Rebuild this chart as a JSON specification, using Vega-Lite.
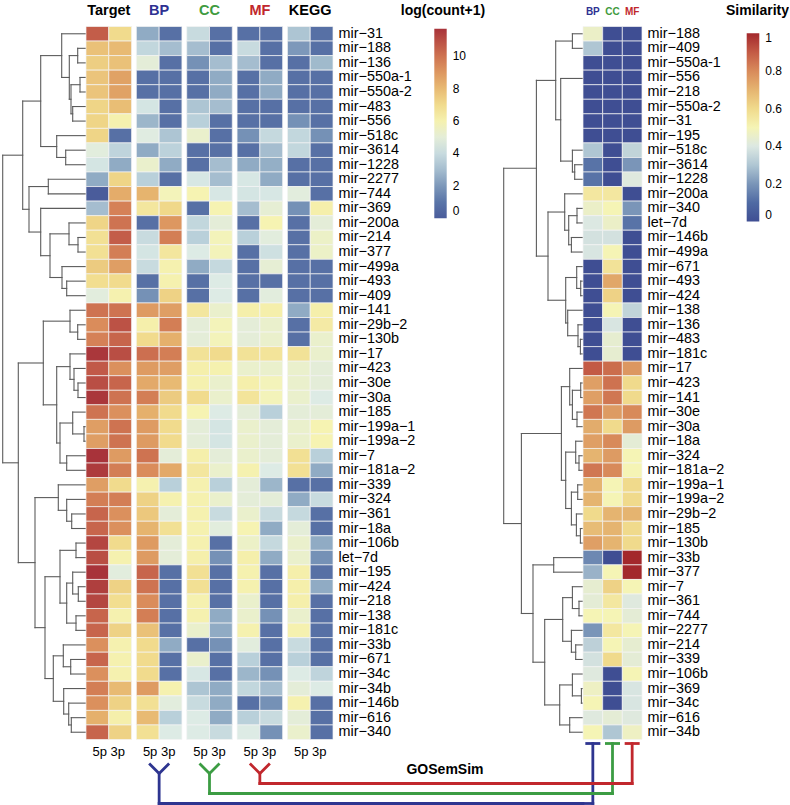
{
  "$schema": "https://vega.github.io/schema/vega-lite/v6.json",
  "padding": {"left": 0, "top": 1.5, "right": 0, "bottom": 0},
  "config": {
    "view": {"stroke": null},
    "font": "Liberation Sans",
    "axis": {"labelFont": "Liberation Sans", "titleFont": "Liberation Sans", "grid": false, "labelColor": "#000000", "titleColor": "#000000", "ticks": false, "domain": false, "labelOverlap": false},
    "legend": {"labelFont": "Liberation Sans", "labelColor": "#000000"}
  },
  "columns": 4,
  "spacing": 0,
  "bounds": "flush",
  "resolve": {"scale": {"color": "independent", "x": "independent", "y": "independent"}},
  "concat": [
    {
      "width": 86, "height": 713,
      "data": {"values": [
        {"h":0.083,"ya":1.5,"ha":0,"yb":2.5,"hb":0},
        {"h":0.06,"ya":3.5,"ha":0,"yb":4.5,"hb":0},
        {"h":0.133,"ya":5.5,"ha":0,"yb":6.5,"hb":0},
        {"h":0.15,"ya":4.0,"ha":0.06,"yb":6.0,"hb":0.133},
        {"h":0.167,"ya":2.0,"ha":0.083,"yb":5.0,"hb":0.15},
        {"h":0.243,"ya":0.5,"ha":0,"yb":3.5,"hb":0.167},
        {"h":0.203,"ya":8.5,"ha":0,"yb":9.5,"hb":0},
        {"h":0.293,"ya":7.5,"ha":0,"yb":9.0,"hb":0.203},
        {"h":0.453,"ya":2.0,"ha":0.243,"yb":8.25,"hb":0.293},
        {"h":0.377,"ya":10.5,"ha":0,"yb":11.5,"hb":0},
        {"h":0.08,"ya":14.5,"ha":0,"yb":15.5,"hb":0},
        {"h":0.17,"ya":13.5,"ha":0,"yb":15.0,"hb":0.08},
        {"h":0.193,"ya":17.5,"ha":0,"yb":18.5,"hb":0},
        {"h":0.24,"ya":16.5,"ha":0,"yb":18.0,"hb":0.193},
        {"h":0.36,"ya":14.25,"ha":0.17,"yb":17.25,"hb":0.24},
        {"h":0.453,"ya":12.5,"ha":0,"yb":15.75,"hb":0.36},
        {"h":0.57,"ya":11.0,"ha":0.377,"yb":14.125,"hb":0.453},
        {"h":0.633,"ya":5.125,"ha":0.453,"yb":12.5625,"hb":0.57},
        {"h":0.083,"ya":20.5,"ha":0,"yb":21.5,"hb":0},
        {"h":0.16,"ya":19.5,"ha":0,"yb":21.0,"hb":0.083},
        {"h":0.08,"ya":24.5,"ha":0,"yb":25.5,"hb":0},
        {"h":0.12,"ya":23.5,"ha":0,"yb":25.0,"hb":0.08},
        {"h":0.16,"ya":22.5,"ha":0,"yb":24.25,"hb":0.12},
        {"h":0.02,"ya":27.5,"ha":0,"yb":28.5,"hb":0},
        {"h":0.133,"ya":26.5,"ha":0,"yb":28.0,"hb":0.02},
        {"h":0.193,"ya":29.5,"ha":0,"yb":30.5,"hb":0},
        {"h":0.26,"ya":27.25,"ha":0.133,"yb":30.0,"hb":0.193},
        {"h":0.293,"ya":23.375,"ha":0.16,"yb":28.625,"hb":0.26},
        {"h":0.427,"ya":20.25,"ha":0.16,"yb":26.0,"hb":0.293},
        {"h":0.143,"ya":33.5,"ha":0,"yb":34.5,"hb":0},
        {"h":0.193,"ya":32.5,"ha":0,"yb":34.0,"hb":0.143},
        {"h":0.277,"ya":31.5,"ha":0,"yb":33.25,"hb":0.193},
        {"h":0.1,"ya":35.5,"ha":0,"yb":36.5,"hb":0},
        {"h":0.077,"ya":38.5,"ha":0,"yb":39.5,"hb":0},
        {"h":0.133,"ya":37.5,"ha":0,"yb":39.0,"hb":0.077},
        {"h":0.1,"ya":40.5,"ha":0,"yb":41.5,"hb":0},
        {"h":0.193,"ya":38.25,"ha":0.133,"yb":41.0,"hb":0.1},
        {"h":0.26,"ya":36.0,"ha":0.1,"yb":39.625,"hb":0.193},
        {"h":0.153,"ya":43.5,"ha":0,"yb":44.5,"hb":0},
        {"h":0.227,"ya":42.5,"ha":0,"yb":44.0,"hb":0.153},
        {"h":0.147,"ya":47.5,"ha":0,"yb":48.5,"hb":0},
        {"h":0.173,"ya":46.5,"ha":0,"yb":48.0,"hb":0.147},
        {"h":0.223,"ya":45.5,"ha":0,"yb":47.25,"hb":0.173},
        {"h":0.327,"ya":43.25,"ha":0.227,"yb":46.375,"hb":0.223},
        {"h":0.41,"ya":37.8125,"ha":0.26,"yb":44.8125,"hb":0.327},
        {"h":0.51,"ya":32.375,"ha":0.277,"yb":41.3125,"hb":0.41},
        {"h":0.677,"ya":23.125,"ha":0.427,"yb":36.84375,"hb":0.51},
        {"h":0.833,"ya":8.84375,"ha":0.633,"yb":29.984,"hb":0.677}
      ]},
      "layer": [
        {"mark": {"type": "rule", "color": "#5c5c5c", "strokeWidth": 1.1, "strokeCap": "square"},
         "encoding": {
           "x": {"field": "h", "type": "quantitative", "scale": {"domain": [0, 0.86], "reverse": true, "nice": false, "zero": false}, "axis": null},
           "y": {"field": "ya", "type": "quantitative", "scale": {"domain": [0, 49], "reverse": true, "nice": false, "zero": false}, "axis": null},
           "y2": {"field": "yb"}}},
        {"mark": {"type": "rule", "color": "#5c5c5c", "strokeWidth": 1.1, "strokeCap": "square"},
         "encoding": {
           "x": {"field": "h", "type": "quantitative", "axis": null},
           "x2": {"field": "ha"},
           "y": {"field": "ya", "type": "quantitative", "axis": null}}},
        {"mark": {"type": "rule", "color": "#5c5c5c", "strokeWidth": 1.1, "strokeCap": "square"},
         "encoding": {
           "x": {"field": "h", "type": "quantitative", "axis": null},
           "x2": {"field": "hb"},
           "y": {"field": "yb", "type": "quantitative", "axis": null}}}
      ]
    },
    {
      "width": 247, "height": 713,
      "data": {"values": [
        {"mir":"mir−31","strand":"5p","Target":10.6,"BP":2.5,"CC":4.0,"MF":0.8,"KEGG":3.2},
        {"mir":"mir−31","strand":"3p","Target":7.0,"BP":0.8,"CC":0.8,"MF":0.8,"KEGG":0.8},
        {"mir":"mir−188","strand":"5p","Target":7.8,"BP":3.8,"CC":3.0,"MF":4.0,"KEGG":2.0},
        {"mir":"mir−188","strand":"3p","Target":8.0,"BP":3.0,"CC":0.8,"MF":0.8,"KEGG":0.8},
        {"mir":"mir−136","strand":"5p","Target":7.4,"BP":5.0,"CC":1.8,"MF":3.0,"KEGG":0.8},
        {"mir":"mir−136","strand":"3p","Target":7.8,"BP":0.8,"CC":3.0,"MF":0.8,"KEGG":2.9},
        {"mir":"mir−550a-1","strand":"5p","Target":7.7,"BP":0.8,"CC":0.8,"MF":0.8,"KEGG":0.8},
        {"mir":"mir−550a-1","strand":"3p","Target":8.7,"BP":0.8,"CC":2.5,"MF":2.5,"KEGG":0.8},
        {"mir":"mir−550a-2","strand":"5p","Target":7.7,"BP":0.8,"CC":0.8,"MF":0.8,"KEGG":0.8},
        {"mir":"mir−550a-2","strand":"3p","Target":8.7,"BP":0.8,"CC":2.5,"MF":2.5,"KEGG":0.8},
        {"mir":"mir−483","strand":"5p","Target":7.2,"BP":4.4,"CC":3.2,"MF":0.8,"KEGG":0.8},
        {"mir":"mir−483","strand":"3p","Target":7.9,"BP":0.8,"CC":3.0,"MF":0.8,"KEGG":0.8},
        {"mir":"mir−556","strand":"5p","Target":7.2,"BP":2.8,"CC":3.5,"MF":0.8,"KEGG":1.8},
        {"mir":"mir−556","strand":"3p","Target":6.0,"BP":0.8,"CC":0.8,"MF":0.8,"KEGG":0.8},
        {"mir":"mir−518c","strand":"5p","Target":7.2,"BP":4.8,"CC":5.3,"MF":1.8,"KEGG":3.8},
        {"mir":"mir−518c","strand":"3p","Target":0.8,"BP":3.2,"CC":0.8,"MF":3.9,"KEGG":1.8},
        {"mir":"mir−3614","strand":"5p","Target":4.9,"BP":2.5,"CC":0.8,"MF":0.8,"KEGG":3.8},
        {"mir":"mir−3614","strand":"3p","Target":3.7,"BP":3.6,"CC":0.8,"MF":3.0,"KEGG":0.8},
        {"mir":"mir−1228","strand":"5p","Target":4.4,"BP":5.3,"CC":0.8,"MF":2.5,"KEGG":0.8},
        {"mir":"mir−1228","strand":"3p","Target":2.5,"BP":2.5,"CC":3.0,"MF":2.6,"KEGG":0.8},
        {"mir":"mir−2277","strand":"5p","Target":2.5,"BP":3.5,"CC":4.5,"MF":4.5,"KEGG":0.8},
        {"mir":"mir−2277","strand":"3p","Target":7.2,"BP":0.8,"CC":3.0,"MF":2.5,"KEGG":0.8},
        {"mir":"mir−744","strand":"5p","Target":0.0,"BP":8.2,"CC":5.9,"MF":4.4,"KEGG":4.9},
        {"mir":"mir−744","strand":"3p","Target":8.4,"BP":5.7,"CC":4.5,"MF":4.5,"KEGG":0.8},
        {"mir":"mir−369","strand":"5p","Target":3.0,"BP":6.5,"CC":0.8,"MF":3.0,"KEGG":1.8},
        {"mir":"mir−369","strand":"3p","Target":9.6,"BP":7.1,"CC":5.9,"MF":5.1,"KEGG":6.1},
        {"mir":"mir−200a","strand":"5p","Target":7.2,"BP":0.8,"CC":3.8,"MF":0.8,"KEGG":0.8},
        {"mir":"mir−200a","strand":"3p","Target":10.0,"BP":9.0,"CC":5.0,"MF":5.9,"KEGG":5.0},
        {"mir":"mir−214","strand":"5p","Target":6.8,"BP":4.0,"CC":3.5,"MF":3.5,"KEGG":0.8},
        {"mir":"mir−214","strand":"3p","Target":10.6,"BP":9.7,"CC":5.7,"MF":4.9,"KEGG":5.4},
        {"mir":"mir−377","strand":"5p","Target":6.8,"BP":4.4,"CC":4.7,"MF":0.8,"KEGG":0.8},
        {"mir":"mir−377","strand":"3p","Target":9.7,"BP":6.5,"CC":5.7,"MF":4.2,"KEGG":5.4},
        {"mir":"mir−499a","strand":"5p","Target":7.5,"BP":4.0,"CC":2.5,"MF":0.8,"KEGG":0.8},
        {"mir":"mir−499a","strand":"3p","Target":8.8,"BP":6.0,"CC":3.9,"MF":5.1,"KEGG":0.8},
        {"mir":"mir−493","strand":"5p","Target":6.9,"BP":0.8,"CC":0.8,"MF":0.8,"KEGG":0.8},
        {"mir":"mir−493","strand":"3p","Target":7.0,"BP":6.0,"CC":4.7,"MF":0.8,"KEGG":0.8},
        {"mir":"mir−409","strand":"5p","Target":4.9,"BP":1.8,"CC":0.8,"MF":0.8,"KEGG":0.8},
        {"mir":"mir−409","strand":"3p","Target":6.0,"BP":7.3,"CC":4.7,"MF":4.9,"KEGG":0.8},
        {"mir":"mir−141","strand":"5p","Target":10.0,"BP":8.9,"CC":6.5,"MF":6.1,"KEGG":2.5},
        {"mir":"mir−141","strand":"3p","Target":10.0,"BP":8.8,"CC":5.3,"MF":6.1,"KEGG":6.1},
        {"mir":"mir−29b−2","strand":"5p","Target":9.3,"BP":6.1,"CC":5.0,"MF":5.0,"KEGG":0.8},
        {"mir":"mir−29b−2","strand":"3p","Target":10.9,"BP":9.7,"CC":5.7,"MF":5.3,"KEGG":6.3},
        {"mir":"mir−130b","strand":"5p","Target":9.6,"BP":7.0,"CC":5.0,"MF":5.0,"KEGG":0.8},
        {"mir":"mir−130b","strand":"3p","Target":10.4,"BP":8.3,"CC":5.7,"MF":5.3,"KEGG":5.3},
        {"mir":"mir−17","strand":"5p","Target":11.6,"BP":10.1,"CC":6.7,"MF":6.7,"KEGG":6.7},
        {"mir":"mir−17","strand":"3p","Target":11.0,"BP":9.7,"CC":7.0,"MF":6.6,"KEGG":5.3},
        {"mir":"mir−423","strand":"5p","Target":10.7,"BP":8.9,"CC":6.1,"MF":5.3,"KEGG":5.3},
        {"mir":"mir−423","strand":"3p","Target":9.2,"BP":8.8,"CC":6.0,"MF":5.3,"KEGG":5.0},
        {"mir":"mir−30e","strand":"5p","Target":11.0,"BP":8.5,"CC":6.0,"MF":6.1,"KEGG":5.3},
        {"mir":"mir−30e","strand":"3p","Target":10.4,"BP":8.0,"CC":5.3,"MF":5.7,"KEGG":5.0},
        {"mir":"mir−30a","strand":"5p","Target":11.6,"BP":9.7,"CC":7.0,"MF":6.6,"KEGG":5.3},
        {"mir":"mir−30a","strand":"3p","Target":10.0,"BP":7.5,"CC":5.3,"MF":5.7,"KEGG":4.7},
        {"mir":"mir−185","strand":"5p","Target":10.0,"BP":8.3,"CC":5.9,"MF":5.0,"KEGG":5.0},
        {"mir":"mir−185","strand":"3p","Target":9.2,"BP":7.0,"CC":4.7,"MF":3.5,"KEGG":5.0},
        {"mir":"mir−199a−1","strand":"5p","Target":8.8,"BP":8.9,"CC":5.0,"MF":5.3,"KEGG":5.3},
        {"mir":"mir−199a−1","strand":"3p","Target":10.0,"BP":7.0,"CC":4.4,"MF":5.0,"KEGG":5.9},
        {"mir":"mir−199a−2","strand":"5p","Target":8.8,"BP":8.9,"CC":5.0,"MF":5.3,"KEGG":5.3},
        {"mir":"mir−199a−2","strand":"3p","Target":10.0,"BP":7.0,"CC":4.4,"MF":5.0,"KEGG":5.9},
        {"mir":"mir−7","strand":"5p","Target":11.7,"BP":10.0,"CC":6.1,"MF":5.3,"KEGG":6.8},
        {"mir":"mir−7","strand":"3p","Target":8.9,"BP":5.0,"CC":5.0,"MF":5.0,"KEGG":3.5},
        {"mir":"mir−181a−2","strand":"5p","Target":11.5,"BP":9.3,"CC":6.5,"MF":6.0,"KEGG":6.8},
        {"mir":"mir−181a−2","strand":"3p","Target":9.7,"BP":8.5,"CC":5.3,"MF":4.7,"KEGG":2.5},
        {"mir":"mir−339","strand":"5p","Target":8.8,"BP":6.0,"CC":6.0,"MF":5.0,"KEGG":0.8},
        {"mir":"mir−339","strand":"3p","Target":7.0,"BP":3.5,"CC":3.5,"MF":2.8,"KEGG":0.8},
        {"mir":"mir−324","strand":"5p","Target":9.7,"BP":7.3,"CC":6.0,"MF":5.0,"KEGG":2.5},
        {"mir":"mir−324","strand":"3p","Target":9.7,"BP":6.0,"CC":5.3,"MF":5.0,"KEGG":4.0},
        {"mir":"mir−361","strand":"5p","Target":10.4,"BP":7.6,"CC":6.0,"MF":5.3,"KEGG":3.9},
        {"mir":"mir−361","strand":"3p","Target":9.2,"BP":5.0,"CC":4.0,"MF":4.0,"KEGG":0.8},
        {"mir":"mir−18a","strand":"5p","Target":10.4,"BP":8.2,"CC":6.0,"MF":5.9,"KEGG":5.0},
        {"mir":"mir−18a","strand":"3p","Target":9.2,"BP":6.8,"CC":4.9,"MF":2.5,"KEGG":0.8},
        {"mir":"mir−106b","strand":"5p","Target":11.2,"BP":8.9,"CC":6.0,"MF":5.4,"KEGG":5.3},
        {"mir":"mir−106b","strand":"3p","Target":7.0,"BP":5.0,"CC":0.8,"MF":3.9,"KEGG":2.5},
        {"mir":"let−7d","strand":"5p","Target":11.0,"BP":8.9,"CC":6.1,"MF":6.1,"KEGG":5.3},
        {"mir":"let−7d","strand":"3p","Target":6.0,"BP":5.0,"CC":1.8,"MF":2.5,"KEGG":1.8},
        {"mir":"mir−195","strand":"5p","Target":11.7,"BP":10.4,"CC":6.8,"MF":6.0,"KEGG":6.1},
        {"mir":"mir−195","strand":"3p","Target":4.9,"BP":0.8,"CC":0.8,"MF":0.8,"KEGG":0.8},
        {"mir":"mir−424","strand":"5p","Target":11.4,"BP":10.0,"CC":6.8,"MF":6.0,"KEGG":6.1},
        {"mir":"mir−424","strand":"3p","Target":7.3,"BP":0.8,"CC":0.8,"MF":0.8,"KEGG":2.5},
        {"mir":"mir−218","strand":"5p","Target":11.2,"BP":9.3,"CC":6.0,"MF":5.3,"KEGG":6.1},
        {"mir":"mir−218","strand":"3p","Target":6.9,"BP":0.8,"CC":0.8,"MF":0.8,"KEGG":0.8},
        {"mir":"mir−138","strand":"5p","Target":10.4,"BP":9.7,"CC":6.0,"MF":5.3,"KEGG":5.3},
        {"mir":"mir−138","strand":"3p","Target":6.0,"BP":0.8,"CC":2.5,"MF":1.8,"KEGG":0.8},
        {"mir":"mir−181c","strand":"5p","Target":10.4,"BP":7.8,"CC":5.3,"MF":6.0,"KEGG":6.0},
        {"mir":"mir−181c","strand":"3p","Target":7.3,"BP":0.8,"CC":2.5,"MF":0.8,"KEGG":0.8},
        {"mir":"mir−33b","strand":"5p","Target":9.2,"BP":7.0,"CC":0.8,"MF":4.9,"KEGG":4.0},
        {"mir":"mir−33b","strand":"3p","Target":6.0,"BP":2.5,"CC":1.8,"MF":0.8,"KEGG":0.8},
        {"mir":"mir−671","strand":"5p","Target":10.4,"BP":7.0,"CC":5.3,"MF":3.5,"KEGG":3.5},
        {"mir":"mir−671","strand":"3p","Target":6.0,"BP":0.8,"CC":0.8,"MF":0.8,"KEGG":0.8},
        {"mir":"mir−34c","strand":"5p","Target":9.2,"BP":7.0,"CC":4.5,"MF":2.8,"KEGG":4.7},
        {"mir":"mir−34c","strand":"3p","Target":6.0,"BP":0.8,"CC":0.8,"MF":1.8,"KEGG":3.7},
        {"mir":"mir−34b","strand":"5p","Target":9.7,"BP":8.9,"CC":3.2,"MF":3.8,"KEGG":5.0},
        {"mir":"mir−34b","strand":"3p","Target":8.0,"BP":6.0,"CC":2.5,"MF":3.0,"KEGG":4.7},
        {"mir":"mir−146b","strand":"5p","Target":9.2,"BP":6.8,"CC":4.0,"MF":0.8,"KEGG":6.0},
        {"mir":"mir−146b","strand":"3p","Target":7.3,"BP":4.9,"CC":2.5,"MF":1.8,"KEGG":0.8},
        {"mir":"mir−616","strand":"5p","Target":8.3,"BP":8.0,"CC":4.7,"MF":3.5,"KEGG":5.0},
        {"mir":"mir−616","strand":"3p","Target":6.1,"BP":3.5,"CC":2.5,"MF":4.0,"KEGG":0.8},
        {"mir":"mir−340","strand":"5p","Target":10.4,"BP":6.8,"CC":4.7,"MF":4.7,"KEGG":5.3},
        {"mir":"mir−340","strand":"3p","Target":7.3,"BP":4.7,"CC":4.0,"MF":1.8,"KEGG":0.8}
      ]},
      "transform": [{"fold": ["Target", "BP", "CC", "MF", "KEGG"], "as": ["group", "count"]}],
      "layer": [
        {
          "mark": {"type": "rect", "stroke": "#f3f3f3", "strokeWidth": 0.7},
          "encoding": {
            "x": {"field": "group", "type": "nominal",
              "scale": {"domain": ["Target", "BP", "CC", "MF", "KEGG"], "paddingInner": 0.095, "paddingOuter": 0},
              "axis": {"orient": "top", "title": null, "labelAngle": 0, "labelFontSize": 14.5, "labelFontWeight": "bold", "labelPadding": 9.3,
                "labelColor": {"expr": "datum.value == 'BP' ? '#2e3192' : datum.value == 'CC' ? '#3f9b40' : datum.value == 'MF' ? '#c1272d' : '#000000'"}}},
            "xOffset": {"field": "strand", "type": "nominal", "scale": {"domain": ["5p", "3p"]}},
            "y": {"field": "mir", "type": "nominal",
              "sort": ["mir−31","mir−188","mir−136","mir−550a-1","mir−550a-2","mir−483","mir−556","mir−518c","mir−3614","mir−1228","mir−2277","mir−744","mir−369","mir−200a","mir−214","mir−377","mir−499a","mir−493","mir−409","mir−141","mir−29b−2","mir−130b","mir−17","mir−423","mir−30e","mir−30a","mir−185","mir−199a−1","mir−199a−2","mir−7","mir−181a−2","mir−339","mir−324","mir−361","mir−18a","mir−106b","let−7d","mir−195","mir−424","mir−218","mir−138","mir−181c","mir−33b","mir−671","mir−34c","mir−34b","mir−146b","mir−616","mir−340"],
              "scale": {"paddingInner": 0, "paddingOuter": 0},
              "axis": {"orient": "right", "title": "log(count+1)", "titleAngle": 0, "titleX": 109.5, "titleY": -12, "titleAlign": "center", "titleBaseline": "alphabetic", "titleFontSize": 14, "titleFontWeight": "bold", "labelFontSize": 14.4, "labelPadding": 5}},
            "color": {"field": "count", "type": "quantitative",
              "scale": {"domain": [0, 1.17, 2.34, 3.51, 4.68, 5.85, 7.02, 8.19, 9.36, 10.53, 11.7],
                "range": ["#4a5c9b", "#5d79aa", "#8aa5c0", "#b9d0da", "#ddebe6", "#f6f4b4", "#f1db8c", "#e6b46e", "#d98a5a", "#c5604a", "#a8333a"], "interpolate": "rgb"},
              "legend": {"orient": "none", "legendX": 348.3, "legendY": 2.3, "title": null, "direction": "vertical", "gradientLength": 189.4, "gradientThickness": 12.4, "gradientStrokeWidth": 0, "values": [0, 2, 4, 6, 8, 10], "labelFontSize": 12, "labelOffset": 6, "labelBaseline": "middle"}}
          }
        },
        {
          "mark": {"type": "rect", "opacity": 0},
          "encoding": {
            "x": {"field": "group", "type": "nominal",
              "axis": {"orient": "bottom", "title": null, "labelAngle": 0, "labelExpr": "'5p 3p'", "labelFontSize": 13, "labelPadding": 6}},
            "xOffset": {"field": "strand", "type": "nominal"},
            "y": {"field": "mir", "type": "nominal", "sort": ["mir−31","mir−188","mir−136","mir−550a-1","mir−550a-2","mir−483","mir−556","mir−518c","mir−3614","mir−1228","mir−2277","mir−744","mir−369","mir−200a","mir−214","mir−377","mir−499a","mir−493","mir−409","mir−141","mir−29b−2","mir−130b","mir−17","mir−423","mir−30e","mir−30a","mir−185","mir−199a−1","mir−199a−2","mir−7","mir−181a−2","mir−339","mir−324","mir−361","mir−18a","mir−106b","let−7d","mir−195","mir−424","mir−218","mir−138","mir−181c","mir−33b","mir−671","mir−34c","mir−34b","mir−146b","mir−616","mir−340"]}
          }
        }
      ],
      "resolve": {"axis": {"x": "independent"}}
    },
    {
      "width": 250, "height": 713,
      "data": {"values": [
        {"h":0.106,"ya":0.5,"ha":0,"yb":1.5,"hb":0},
        {"h":0.083,"ya":9.5,"ha":0,"yb":10.5,"hb":0},
        {"h":0.106,"ya":8.5,"ha":0,"yb":10.0,"hb":0.083},
        {"h":0.223,"ya":3.57,"ha":0,"yb":9.25,"hb":0.106},
        {"h":0.273,"ya":1.0,"ha":0.106,"yb":6.41,"hb":0.223},
        {"h":0.06,"ya":12.5,"ha":0,"yb":13.5,"hb":0},
        {"h":0.116,"ya":14.5,"ha":0,"yb":15.5,"hb":0},
        {"h":0.143,"ya":13.0,"ha":0.06,"yb":15.0,"hb":0.116},
        {"h":0.183,"ya":11.5,"ha":0,"yb":14.0,"hb":0.143},
        {"h":0.023,"ya":17.5,"ha":0,"yb":18.5,"hb":0},
        {"h":0.063,"ya":16.5,"ha":0,"yb":18.0,"hb":0.023},
        {"h":0.026,"ya":21.5,"ha":0,"yb":22.5,"hb":0},
        {"h":0.05,"ya":20.5,"ha":0,"yb":22.0,"hb":0.026},
        {"h":0.153,"ya":19.5,"ha":0,"yb":21.25,"hb":0.05},
        {"h":0.173,"ya":17.25,"ha":0.063,"yb":20.375,"hb":0.153},
        {"h":0.35,"ya":12.75,"ha":0.183,"yb":18.8125,"hb":0.173},
        {"h":0.466,"ya":3.705,"ha":0.273,"yb":15.78,"hb":0.35},
        {"h":0.023,"ya":24.5,"ha":0,"yb":25.5,"hb":0},
        {"h":0.06,"ya":26.5,"ha":0,"yb":27.5,"hb":0},
        {"h":0.106,"ya":25.0,"ha":0.023,"yb":27.0,"hb":0.06},
        {"h":0.133,"ya":23.5,"ha":0,"yb":26.0,"hb":0.106},
        {"h":0.04,"ya":29.5,"ha":0,"yb":30.5,"hb":0},
        {"h":0.073,"ya":28.5,"ha":0,"yb":30.0,"hb":0.04},
        {"h":0.026,"ya":34.5,"ha":0,"yb":35.5,"hb":0},
        {"h":0.066,"ya":33.5,"ha":0,"yb":35.0,"hb":0.026},
        {"h":0.053,"ya":31.5,"ha":0,"yb":32.5,"hb":0},
        {"h":0.116,"ya":32.0,"ha":0.053,"yb":34.25,"hb":0.066},
        {"h":0.173,"ya":29.25,"ha":0.073,"yb":33.125,"hb":0.116},
        {"h":0.216,"ya":24.75,"ha":0.133,"yb":31.1875,"hb":0.173},
        {"h":0.293,"ya":36.5,"ha":0,"yb":37.5,"hb":0},
        {"h":0.04,"ya":39.5,"ha":0,"yb":40.5,"hb":0},
        {"h":0.106,"ya":38.5,"ha":0,"yb":40.0,"hb":0.04},
        {"h":0.073,"ya":42.5,"ha":0,"yb":43.5,"hb":0},
        {"h":0.116,"ya":41.5,"ha":0,"yb":43.0,"hb":0.073},
        {"h":0.203,"ya":39.25,"ha":0.106,"yb":42.25,"hb":0.116},
        {"h":0.016,"ya":45.5,"ha":0,"yb":46.5,"hb":0},
        {"h":0.106,"ya":44.5,"ha":0,"yb":46.0,"hb":0.016},
        {"h":0.133,"ya":47.5,"ha":0,"yb":48.5,"hb":0},
        {"h":0.233,"ya":45.25,"ha":0.106,"yb":48.0,"hb":0.133},
        {"h":0.383,"ya":40.75,"ha":0.203,"yb":46.625,"hb":0.233},
        {"h":0.5,"ya":37.0,"ha":0.293,"yb":43.6875,"hb":0.383},
        {"h":0.616,"ya":27.97,"ha":0.216,"yb":40.34,"hb":0.5},
        {"h":0.793,"ya":9.74,"ha":0.466,"yb":34.16,"hb":0.616}
      ]},
      "layer": [
        {"mark": {"type": "rule", "color": "#5c5c5c", "strokeWidth": 1.1, "strokeCap": "square"},
         "encoding": {
           "x": {"field": "h", "type": "quantitative", "scale": {"domain": [0, 2.5], "reverse": true, "nice": false, "zero": false}, "axis": null},
           "y": {"field": "ya", "type": "quantitative", "scale": {"domain": [0, 49], "reverse": true, "nice": false, "zero": false}, "axis": null},
           "y2": {"field": "yb"}}},
        {"mark": {"type": "rule", "color": "#5c5c5c", "strokeWidth": 1.1, "strokeCap": "square"},
         "encoding": {
           "x": {"field": "h", "type": "quantitative", "axis": null},
           "x2": {"field": "ha"},
           "y": {"field": "ya", "type": "quantitative", "axis": null}}},
        {"mark": {"type": "rule", "color": "#5c5c5c", "strokeWidth": 1.1, "strokeCap": "square"},
         "encoding": {
           "x": {"field": "h", "type": "quantitative", "axis": null},
           "x2": {"field": "hb"},
           "y": {"field": "yb", "type": "quantitative", "axis": null}}}
      ]
    },
    {
      "width": 59, "height": 713,
      "data": {"values": [
        {"mir":"mir−188","BP":0.46,"CC":0,"MF":0},
        {"mir":"mir−409","BP":0.30,"CC":0,"MF":0},
        {"mir":"mir−550a-1","BP":0,"CC":0,"MF":0},
        {"mir":"mir−556","BP":0,"CC":0,"MF":0},
        {"mir":"mir−218","BP":0,"CC":0,"MF":0},
        {"mir":"mir−550a-2","BP":0,"CC":0,"MF":0},
        {"mir":"mir−31","BP":0,"CC":0,"MF":0},
        {"mir":"mir−195","BP":0,"CC":0,"MF":0},
        {"mir":"mir−518c","BP":0.30,"CC":0,"MF":0.34},
        {"mir":"mir−3614","BP":0.12,"CC":0,"MF":0.20},
        {"mir":"mir−1228","BP":0.12,"CC":0,"MF":0.41},
        {"mir":"mir−200a","BP":0.55,"CC":0.55,"MF":0},
        {"mir":"mir−340","BP":0.46,"CC":0.50,"MF":0.20},
        {"mir":"let−7d","BP":0.40,"CC":0.46,"MF":0.12},
        {"mir":"mir−146b","BP":0.38,"CC":0.38,"MF":0},
        {"mir":"mir−499a","BP":0.39,"CC":0.50,"MF":0},
        {"mir":"mir−671","BP":0,"CC":0.57,"MF":0},
        {"mir":"mir−493","BP":0,"CC":0.73,"MF":0},
        {"mir":"mir−424","BP":0,"CC":0.62,"MF":0},
        {"mir":"mir−138","BP":0,"CC":0.50,"MF":0.34},
        {"mir":"mir−136","BP":0,"CC":0.39,"MF":0},
        {"mir":"mir−483","BP":0,"CC":0.44,"MF":0},
        {"mir":"mir−181c","BP":0,"CC":0.44,"MF":0},
        {"mir":"mir−17","BP":0.90,"CC":0.86,"MF":0.77},
        {"mir":"mir−423","BP":0.75,"CC":0.85,"MF":0.60},
        {"mir":"mir−141","BP":0.75,"CC":0.84,"MF":0.60},
        {"mir":"mir−30e","BP":0.84,"CC":0.76,"MF":0.80},
        {"mir":"mir−30a","BP":0.72,"CC":0.60,"MF":0.76},
        {"mir":"mir−18a","BP":0.75,"CC":0.80,"MF":0.43},
        {"mir":"mir−324","BP":0.70,"CC":0.76,"MF":0.50},
        {"mir":"mir−181a−2","BP":0.84,"CC":0.80,"MF":0.50},
        {"mir":"mir−199a−1","BP":0.70,"CC":0.50,"MF":0.60},
        {"mir":"mir−199a−2","BP":0.70,"CC":0.50,"MF":0.60},
        {"mir":"mir−29b−2","BP":0.60,"CC":0.70,"MF":0.70},
        {"mir":"mir−185","BP":0.68,"CC":0.70,"MF":0.60},
        {"mir":"mir−130b","BP":0.75,"CC":0.70,"MF":0.60},
        {"mir":"mir−33b","BP":0.17,"CC":0,"MF":1.0},
        {"mir":"mir−377","BP":0.26,"CC":0.50,"MF":1.0},
        {"mir":"mir−7","BP":0.44,"CC":0.62,"MF":0.50},
        {"mir":"mir−361","BP":0.43,"CC":0.55,"MF":0.41},
        {"mir":"mir−744","BP":0.50,"CC":0.50,"MF":0.43},
        {"mir":"mir−2277","BP":0.20,"CC":0.55,"MF":0.50},
        {"mir":"mir−214","BP":0.33,"CC":0.50,"MF":0.44},
        {"mir":"mir−339","BP":0.38,"CC":0.60,"MF":0.43},
        {"mir":"mir−106b","BP":0.41,"CC":0,"MF":0.50},
        {"mir":"mir−369","BP":0.47,"CC":0,"MF":0.39},
        {"mir":"mir−34c","BP":0.50,"CC":0,"MF":0.39},
        {"mir":"mir−616","BP":0.41,"CC":0.43,"MF":0.41},
        {"mir":"mir−34b","BP":0.50,"CC":0.30,"MF":0.47}
      ]},
      "transform": [{"fold": ["BP", "CC", "MF"], "as": ["ont", "sim"]}],
      "mark": {"type": "rect", "stroke": "#f3f3f3", "strokeWidth": 0.7},
      "encoding": {
        "x": {"field": "ont", "type": "nominal", "scale": {"domain": ["BP", "CC", "MF"], "paddingInner": 0, "paddingOuter": 0},
          "axis": {"orient": "top", "title": null, "labelAngle": 0, "labelFontSize": 10, "labelFontWeight": "bold", "labelPadding": 9.6,
            "labelColor": {"expr": "datum.value == 'BP' ? '#2e3192' : datum.value == 'CC' ? '#3f9b40' : datum.value == 'MF' ? '#c1272d' : '#000000'"}}},
        "y": {"field": "mir", "type": "nominal",
          "sort": ["mir−188","mir−409","mir−550a-1","mir−556","mir−218","mir−550a-2","mir−31","mir−195","mir−518c","mir−3614","mir−1228","mir−200a","mir−340","let−7d","mir−146b","mir−499a","mir−671","mir−493","mir−424","mir−138","mir−136","mir−483","mir−181c","mir−17","mir−423","mir−141","mir−30e","mir−30a","mir−18a","mir−324","mir−181a−2","mir−199a−1","mir−199a−2","mir−29b−2","mir−185","mir−130b","mir−33b","mir−377","mir−7","mir−361","mir−744","mir−2277","mir−214","mir−339","mir−106b","mir−369","mir−34c","mir−616","mir−34b"],
          "scale": {"paddingInner": 0, "paddingOuter": 0},
          "axis": {"orient": "right", "title": "Similarity", "titleAngle": 0, "titleX": 115, "titleY": -12, "titleAlign": "center", "titleBaseline": "alphabetic", "titleFontSize": 14, "titleFontWeight": "bold", "labelFontSize": 14.4, "labelPadding": 5}},
        "color": {"field": "sim", "type": "quantitative",
          "scale": {"domain": [0, 0.1, 0.2, 0.3, 0.4, 0.5, 0.6, 0.7, 0.8, 0.9, 1],
            "range": ["#3f4e93", "#4f6aa3", "#7a95b8", "#afc6d3", "#dce8e2", "#f5f4b5", "#f0da8c", "#e5b470", "#d88a5a", "#c35a45", "#a3282c"], "interpolate": "rgb"},
          "legend": {"orient": "none", "legendX": 163.7, "legendY": 6.7, "title": null, "direction": "vertical", "gradientLength": 188.3, "gradientThickness": 12.6, "gradientStrokeWidth": 0, "values": [0, 0.2, 0.4, 0.6, 0.8, 1], "format": "~g", "labelFontSize": 12, "labelOffset": 6, "labelBaseline": "middle"}}
      }
    },
    {
      "width": 86, "height": 68,
      "data": {"values": [{"label": ""}]},
      "mark": {"type": "text"},
      "encoding": {"text": {"field": "label", "type": "nominal"}}
    },
    {
      "width": 247, "height": 68,
      "data": {"values": [{"ontology": "BP", "fork": "junction"}, {"ontology": "CC", "fork": "junction"}, {"ontology": "MF", "fork": "junction"}]},
      "layer": [
        {"mark": {"type": "rule", "strokeWidth": 2.8, "strokeCap": "square"},
         "encoding": {
           "x": {"field": "ontology", "type": "nominal", "scale": {"domain": ["Target", "BP", "CC", "MF", "KEGG"], "paddingInner": 0.095, "paddingOuter": 0}, "axis": null},
           "y": {"field": "fork", "type": "nominal", "scale": {"type": "point", "domain": ["bracket", "labels", "forktop", "junction", "MF", "CC", "BP"], "padding": 0.4}, "axis": null},
           "y2": {"field": "ontology"},
           "color": {"field": "ontology", "type": "nominal", "scale": {"domain": ["BP", "CC", "MF"], "range": ["#2e3590", "#3c9c43", "#c1272d"]}, "legend": null}}},
        {"mark": {"type": "rule", "strokeWidth": 2.8, "strokeCap": "square"},
         "encoding": {
           "x": {"field": "ontology", "type": "nominal", "axis": null},
           "x2": {"value": "width"},
           "y": {"field": "ontology", "type": "nominal", "axis": null},
           "color": {"field": "ontology", "type": "nominal", "legend": null}}},
        {"mark": {"type": "point", "shape": "M-1,-1L0,0L1,-1", "size": 400, "filled": false, "strokeWidth": 2.8, "opacity": 1},
         "encoding": {
           "x": {"field": "ontology", "type": "nominal", "axis": null},
           "y": {"field": "fork", "type": "nominal", "axis": null},
           "color": {"field": "ontology", "type": "nominal", "legend": null}}}
      ]
    },
    {
      "width": 250, "height": 68,
      "layer": [
        {
          "data": {"values": [{"ontology": "BP"}, {"ontology": "CC"}, {"ontology": "MF"}]},
          "mark": {"type": "rule", "strokeWidth": 2.8, "strokeCap": "square"},
          "encoding": {
            "x": {"value": 0},
            "x2": {"value": "width"},
            "y": {"field": "ontology", "type": "nominal", "scale": {"type": "point", "domain": ["bracket", "labels", "forktop", "junction", "MF", "CC", "BP"], "padding": 0.4}, "axis": null},
            "color": {"field": "ontology", "type": "nominal", "scale": {"domain": ["BP", "CC", "MF"], "range": ["#2e3590", "#3c9c43", "#c1272d"]}, "legend": null}
          }
        },
        {
          "data": {"values": [{"label": "GOSemSim", "slot": "junction"}]},
          "mark": {"type": "text", "fontSize": 14, "fontWeight": "bold", "font": "Liberation Sans", "color": "#000000", "align": "center", "baseline": "alphabetic", "dx": -13},
          "encoding": {
            "x": {"field": "label", "type": "nominal", "scale": {"domain": ["GOSemSim"]}, "axis": null},
            "y": {"field": "slot", "type": "nominal", "axis": null},
            "text": {"field": "label", "type": "nominal"}
          }
        }
      ]
    },
    {
      "width": 59, "height": 68,
      "data": {"values": [{"ontology": "BP", "cap": "bracket"}, {"ontology": "CC", "cap": "bracket"}, {"ontology": "MF", "cap": "bracket"}]},
      "layer": [
        {"mark": {"type": "rule", "strokeWidth": 2.8, "strokeCap": "square"},
         "encoding": {
           "x": {"field": "ontology", "type": "nominal", "scale": {"domain": ["BP", "CC", "MF"], "paddingInner": 0, "paddingOuter": 0}, "axis": null},
           "y": {"field": "cap", "type": "nominal", "scale": {"type": "point", "domain": ["bracket", "labels", "forktop", "junction", "MF", "CC", "BP"], "padding": 0.4}, "axis": null},
           "y2": {"field": "ontology"},
           "color": {"field": "ontology", "type": "nominal", "scale": {"domain": ["BP", "CC", "MF"], "range": ["#2e3590", "#3c9c43", "#c1272d"]}, "legend": null}}},
        {"mark": {"type": "rule", "strokeWidth": 2.8, "strokeCap": "square"},
         "encoding": {
           "x": {"field": "ontology", "type": "nominal", "axis": null},
           "x2": {"value": 0},
           "y": {"field": "ontology", "type": "nominal", "axis": null},
           "color": {"field": "ontology", "type": "nominal", "legend": null}}},
        {"mark": {"type": "point", "shape": "M-1,0L1,0", "size": 225, "filled": false, "strokeWidth": 2.8, "opacity": 1},
         "encoding": {
           "x": {"field": "ontology", "type": "nominal", "axis": null},
           "y": {"field": "cap", "type": "nominal", "axis": null},
           "color": {"field": "ontology", "type": "nominal", "legend": null}}}
      ]
    }
  ]
}
